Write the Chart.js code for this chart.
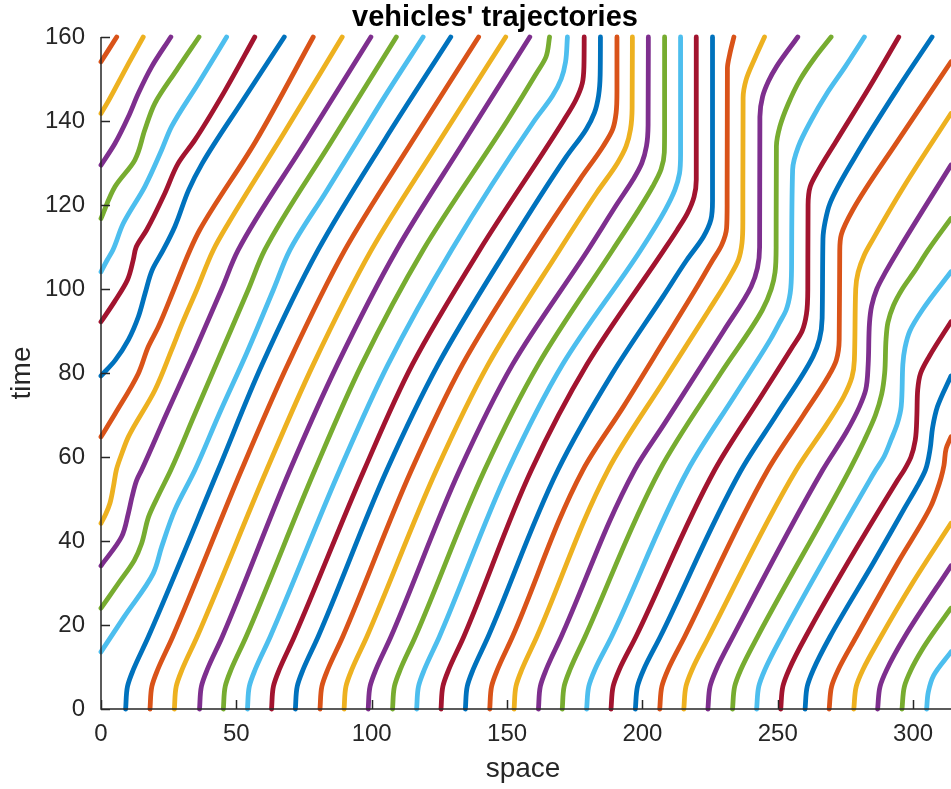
<!DOCTYPE html>
<html>
<head>
<meta charset="utf-8">
<title>vehicles' trajectories</title>
<script src="https://cdn.jsdelivr.net/npm/chart.js@4.4.1/dist/chart.umd.min.js"></script>
<style>
  html, body { margin: 0; padding: 0; background: #fff; overflow: hidden; }
</style>
</head>
<body>
<canvas id="traj" width="951" height="789"></canvas>
<script>
// ring road, axis ticks
const roadLength = 314;
const timeTicks = [0, 20, 40, 60, 80, 100, 120, 140, 160];
const spaceTicks = [0, 50, 100, 150, 200, 250, 300];

// each car: [time, position] samples; "b" arrays are the part after wrapping round the ring
const car01 = [[0,9.1],[5.4,9.8],[9.3,11.9],[17.2,17.5],[56.9,43.3],[82,59.5],[109.3,80.2],[135.5,104.8],[160,129.2]];
const car02 = [[0,18.1],[5.4,18.8],[9.3,20.9],[17.2,26.5],[56.9,51.9],[82,69],[109.3,90.1],[135,114.8],[160,139.5]];
const car03 = [[0,27.1],[5.4,27.8],[9.3,29.9],[17.2,35.5],[56.9,61.2],[82,78.4],[109.3,99.9],[135,124.8],[160,149.5]];
const car04 = [[0,36.4],[5.4,37.1],[9.3,39.2],[17.2,44.8],[56.9,69.8],[82,87.3],[109.3,109.2],[135,134],[160,158.4]];
const car05 = [[0,45.2],[5.4,45.9],[9.3,48],[17.2,53.6],[56.9,79],[82,96.3],[109.3,119],[140,150],[151.3,160.8],[155.3,164.4],[160,165.7]];
const car06 = [[0,54.1],[5.4,54.8],[9.3,56.9],[17.2,62.5],[56.9,88.2],[82,106],[109.3,129.5],[140,160],[146,166.8],[150,170],[154,171.6],[160,172.3]];
const car07 = [[0,63],[5.4,63.7],[9.3,65.8],[17.2,71.4],[56.9,97.2],[82,115],[109.3,139.9],[140,170.8],[145,175.4],[149,177.8],[153,178.4],[160,178.5]];
const car08 = [[0,71.8],[5.4,72.5],[9.3,74.6],[17.2,80.2],[56.9,105.6],[82,124.5],[109.3,149.8],[131.5,171.9],[138,179.2],[142,182.3],[146,183.8],[151,184.4],[160,184.5]];
const car09 = [[0,80.9],[5.4,81.6],[9.3,83.7],[17.2,89.3],[56.9,114.7],[82,133.5],[109.3,159.6],[126,176.8],[134,185.5],[138,189],[142,190.3],[147,190.6],[160,190.6]];
const car10 = [[0,89.8],[5.4,90.5],[9.3,92.6],[17.2,98.2],[56.9,123.9],[82,143],[109.3,169.4],[122.8,183],[130,190.8],[134,194],[138,195.6],[143,196.2],[160,196.3]];
const car11 = [[0,98.7],[5.4,99.4],[9.3,101.5],[17.2,107.1],[56.9,132.5],[82,152],[109.3,179.9],[120.4,190.8],[126,196.5],[130,199.8],[134,201.5],[139,202.1],[160,202.2]];
const car12 = [[0,107.7],[5.4,108.4],[9.3,110.5],[17.2,116.1],[56.9,141.7],[82,161.5],[109.3,189],[118,197.8],[124.4,203.8],[128.5,206.9],[132.5,208.1],[138,208.2],[160,208.2]];
const car13 = [[0,116.6],[5.4,117.3],[9.3,119.4],[17.2,125],[56.9,150.4],[82,170.5],[109.3,199.4],[118.8,208.4],[123.6,212],[127.5,213.7],[132,214.1],[160,214.1]];
const car14 = [[0,125.6],[5.4,126.3],[9.3,128.4],[17.2,134],[56.9,159],[82,179.5],[109.3,208],[114,212.8],[118,216.6],[122,219.1],[126,219.9],[160,219.9]];
const car15 = [[0,134.6],[5.4,135.3],[9.3,137.4],[17.2,143],[56.9,168.8],[80,189],[98.2,207.6],[106.9,216.4],[112.5,222.6],[116.5,225.3],[121,225.9],[160,225.9]];
const car16 = [[0,143.6],[5.4,144.3],[9.3,146.4],[17.2,152],[56.9,178],[72,193],[87.9,208.2],[100,219.7],[106.5,225.6],[110.5,229.3],[114.5,231.1],[120,231.3],[152.5,231.4],[156,232.3],[160,233.8]];
const car17 = [[0,152.6],[5.4,153.3],[9.3,155.4],[17.2,161],[56.9,187.3],[78.4,208.2],[95,224.6],[102.9,232.2],[107,235.5],[111,236.8],[116,237.1],[145.5,237.2],[149.8,238.3],[155,241.6],[160,245.1]];
const car18 = [[0,161.6],[5.4,162.3],[9.3,164.4],[17.2,170],[56.9,197.1],[68,208.2],[90,230],[100.6,240.2],[105,242.5],[110,243.3],[141,243.4],[145.8,244.4],[149.5,246.6],[153,249.6],[160,257.4]];
const car19 = [[0,170.4],[5.4,171.1],[9.3,173.2],[17.2,178.8],[56.9,206.4],[80,229],[95,244.3],[100,247.6],[104,249],[110,249.4],[134,249.5],[138.7,250.8],[144,253.8],[149.8,258.2],[155,263.6],[160,269.7]];
const car20 = [[0,179.4],[5.4,180.2],[9.3,182.4],[17.2,188.6],[56.9,216.8],[75,234.5],[88,247.3],[91.8,250.5],[95,253.1],[99,254.6],[105,255.1],[128.5,255.5],[133.9,257.6],[140,262.2],[146.6,268.2],[153,275],[160,282]];
const car21 = [[0,188.4],[5.4,189.2],[9.3,191.4],[17.2,197.6],[56.9,226.7],[75,244.4],[86.3,255.5],[90,259],[94,260.6],[100,261.1],[120,261.2],[124.4,262],[128,264.8],[135,271.4],[148.2,284],[160,294.7]];
const car22 = [[0,197.4],[5.4,198.2],[9.3,200.4],[17.2,206.6],[56.9,236.5],[70,249.5],[83.9,263],[88,265.4],[93,266.4],[112,266.7],[116,267.5],[120.4,269.3],[131.5,278.6],[148.2,294.8],[160,307]];
const car23 = [[0,206.4],[5.4,207.2],[9.3,209.4],[17.2,215.6],[56.9,246.3],[70,259.5],[79.1,268.6],[83,271.6],[88,272.7],[109,272.9],[113,273.5],[118.8,277.7],[135.5,294.6],[154.1,314]];
const car23b = [[154.1,0],[160,5.8]];
const car24 = [[0,215.3],[5.4,216.1],[9.3,218.3],[17.2,224.5],[56.9,256.8],[68,268.3],[74.4,274.4],[79,277.4],[83,278.3],[100,278.8],[104,279.7],[108,281.9],[112,285.3],[124.4,296.6],[141.8,314]];
const car24b = [[141.8,0],[144.6,2.6],[149,6.3],[153.7,10.2],[160,15.6]];
const car25 = [[0,224.2],[5.4,225],[9.3,227.2],[17.2,233.4],[56.9,266.6],[66,275.4],[72,280.2],[76,282.5],[82,283.4],[92,283.9],[96,284.7],[100,286.6],[104,289.8],[109.3,294.6],[129.5,314]];
const car25b = [[129.5,0],[134.7,5.2],[141,10.1],[146.6,13.8],[152.9,18.7],[160,25.8]];
const car26 = [[0,233.3],[5.4,234.1],[9.3,236.3],[17.2,242.5],[56.9,276.5],[64,282],[70,286.1],[75,288.4],[80,289.5],[88,290],[92,290.7],[96,292.7],[100,296],[104,300.3],[109.3,305.6],[116.8,314]];
const car26b = [[116.8,0],[124.4,5.2],[130.7,12.5],[137.9,16.2],[144.2,19.9],[152,27.8],[160,36.2]];
const car27 = [[0,242.2],[5.4,243],[9.3,245.2],[17.2,251.4],[54.5,284],[57,286.3],[60,289.2],[64,291.8],[68,294.2],[72,295.6],[82,296.2],[86,297],[90,298.8],[95,303.4],[104.1,314]];
const car27b = [[104.1,0],[106.9,2.3],[109.3,4.4],[115.6,8.2],[124.4,16.2],[133.1,22.4],[138.7,26.1],[149,36],[160,46.4]];
const car28 = [[0,251.1],[5.4,251.9],[9.3,254.1],[17.2,260.3],[54.5,294.3],[57,296.8],[60,299.2],[64,300.8],[70,301.4],[76,301.7],[80,302.8],[84,306],[92.2,314]];
const car28b = [[92.2,0],[97,5],[102.2,9.8],[106.9,11.9],[110,13],[114.1,16.9],[122.8,23.6],[129.9,28.5],[135.5,34.7],[147,45.6],[160,56.8]];
const car29 = [[0,260.1],[5.4,260.9],[9.3,263.1],[17.2,269.3],[35,285.5],[48,297],[53,301.5],[57,304.6],[62,306.3],[67,307.2],[72,309],[79.3,314]];
const car29b = [[79.3,0],[83,5.2],[87.9,10.1],[93.4,13.8],[99,16.3],[104.5,18.9],[109.3,23],[114.9,27.3],[123.6,32.4],[129.9,37.4],[145,52.5],[160,67.7]];
const car30 = [[0,269],[5.4,269.9],[9.3,272.3],[17.2,279],[35,294.5],[48.2,306.5],[52,308.8],[55,310.3],[58,311.4],[62,312.2],[64.8,314]];
const car30b = [[64.8,0],[70.3,5.2],[79.9,13.8],[86.3,17.5],[91,21.2],[100,27],[109.3,32.9],[114.1,36.5],[135,57],[160,78.4]];
const car31 = [[0,278.1],[5.4,279],[9.3,281.4],[17.2,288.1],[30,299.8],[44.2,314]];
const car31b = [[44.2,0],[46.5,1.8],[49,3.3],[53,4.6],[57,5.7],[61,7.8],[64.8,10.1],[75.9,19.9],[85.5,26.1],[91.8,30],[100,35.5],[109.3,41.5],[115.6,47],[137,67.5],[160,89.1]];
const car32 = [[0,286.9],[5.4,287.8],[9.3,290.2],[17.2,296.9],[34.1,314]];
const car32b = [[34.1,0],[41,7.6],[46.6,10.1],[50.6,11.5],[54.5,13.2],[56.9,15],[70,24],[85,34.5],[100,44.6],[109.3,50.7],[135,75.5],[160,99.7]];
const car33 = [[0,295.9],[5.4,296.8],[9.3,299.2],[14,303.2],[18,307.3],[24,314]];
const car33b = [[24,0],[30,6.5],[35.4,12.3],[39.4,15],[45.8,17.6],[51,21.3],[56.9,25.8],[70,34.5],[85,44.5],[100,54.5],[109.3,60.5],[135,85],[160,109.1]];
const car34 = [[0,305],[4,305.6],[8,307.6],[13.6,314]];
const car34b = [[13.6,0],[22,8.6],[32.3,19.3],[38.6,22.4],[47.4,27.3],[56.9,34.7],[70,43.5],[85,54],[100,63.8],[109.3,69.8],[123,83],[135,94.5],[145.8,104.8],[160,119]];

const cars = [
  [car01], [car02], [car03], [car04], [car05], [car06], [car07], [car08], [car09], [car10],
  [car11], [car12], [car13], [car14], [car15], [car16], [car17], [car18], [car19], [car20],
  [car21], [car22], [car23, car23b], [car24, car24b], [car25, car25b], [car26, car26b],
  [car27, car27b], [car28, car28b], [car29, car29b], [car30, car30b], [car31, car31b],
  [car32, car32b], [car33, car33b], [car34, car34b]
];

// default matlab line colour order
const lineColors = ['#0072BD', '#D95319', '#EDB120', '#7E2F8E', '#77AC30', '#4DBEEE', '#A2142F'];

const fontFamily = '"Liberation Sans", Arial, Helvetica, sans-serif';
const axisColor = '#262626';

const datasets = [];
cars.forEach((segments, i) => {
  segments.forEach(seg => {
    datasets.push({
      data: seg.map(p => ({ x: p[1], y: p[0] })),
      borderColor: lineColors[i % lineColors.length],
      borderWidth: 4.8,
      borderCapStyle: 'round',
      borderJoinStyle: 'round',
      cubicInterpolationMode: 'monotone',
      pointRadius: 0,
      fill: false,
      clip: 3
    });
  });
});

// axes drawn by hand: left and bottom lines with inward ticks, plus the texts
const matlabAxes = {
  id: 'matlabAxes',
  afterDatasetsDraw(chart) {
    const { ctx, chartArea: a, scales: { x, y } } = chart;
    ctx.save();
    ctx.strokeStyle = axisColor;
    ctx.lineWidth = 1.5;
    ctx.beginPath();
    ctx.moveTo(a.left, a.top);
    ctx.lineTo(a.left, a.bottom);
    ctx.lineTo(a.right, a.bottom);
    timeTicks.forEach(v => {
      const py = Math.round(y.getPixelForValue(v)) + 0.5;
      ctx.moveTo(a.left, py);
      ctx.lineTo(a.left + 9, py);
    });
    spaceTicks.forEach(v => {
      const px = Math.round(x.getPixelForValue(v)) + 0.5;
      ctx.moveTo(px, a.bottom);
      ctx.lineTo(px, a.bottom - 9);
    });
    ctx.stroke();

    ctx.fillStyle = '#000';
    ctx.textAlign = 'center';
    ctx.textBaseline = 'alphabetic';
    ctx.font = 'bold 29px ' + fontFamily;
    ctx.fillText("vehicles' trajectories", 495, 26);

    ctx.fillStyle = axisColor;
    ctx.font = '28px ' + fontFamily;
    ctx.fillText('space', 523, 777);

    ctx.translate(30, 373);
    ctx.rotate(-Math.PI / 2);
    ctx.fillText('time', 0, 0);
    ctx.restore();
  }
};

new Chart(document.getElementById('traj'), {
  type: 'line',
  data: { datasets },
  options: {
    responsive: false,
    animation: false,
    indexAxis: 'y',
    layout: { padding: { top: 37, right: 0, bottom: 0, left: 0 } },
    plugins: {
      legend: { display: false },
      tooltip: { enabled: false },
      title: { display: false }
    },
    scales: {
      x: {
        type: 'linear',
        min: 0,
        max: roadLength,
        grid: { display: false, drawTicks: false },
        border: { display: false },
        ticks: { color: axisColor, padding: 11, font: { family: fontFamily, size: 24 } },
        afterBuildTicks: s => { s.ticks = spaceTicks.map(v => ({ value: v })); },
        afterFit: s => { s.height = 80; }
      },
      y: {
        type: 'linear',
        min: 0,
        max: 160,
        reverse: false,
        grid: { display: false, drawTicks: false },
        border: { display: false },
        ticks: { color: axisColor, padding: 16, font: { family: fontFamily, size: 24 } },
        afterBuildTicks: s => { s.ticks = timeTicks.map(v => ({ value: v })); },
        afterFit: s => { s.width = 101; }
      }
    }
  },
  plugins: [matlabAxes]
});
</script>
</body>
</html>
